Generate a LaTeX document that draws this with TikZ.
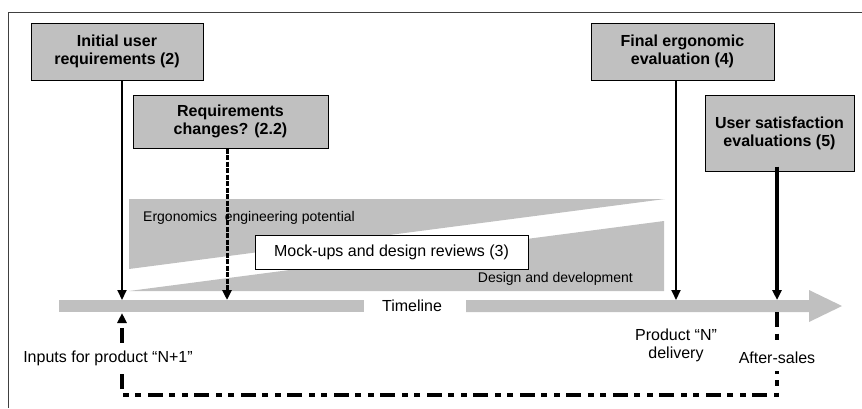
\documentclass[tikz,border=0pt]{standalone}
\usepackage{fontspec}
\setmainfont{Liberation Sans}
\usetikzlibrary{arrows.meta, positioning}
\definecolor{boxgray}{RGB}{192,192,192}
\tikzset{
    phase/.style={draw=black, fill=boxgray, line width=1pt, align=center, inner sep=0pt,
        font=\bfseries\fontsize{16}{18}\selectfont},
    lbl/.style={align=center, inner sep=1pt, font=\fontsize{16}{18}\selectfont},
    smalllbl/.style={inner sep=0pt, font=\fontsize{14}{16}\selectfont},
    tip/.style={-{Triangle[length=10pt,width=9pt]}},
    feedback/.style={line width=3.2pt, dash pattern=on 15pt off 6.5pt on 6pt off 6.5pt on 6pt off 6.5pt},
}

\begin{document}
\begin{tikzpicture}[x=1pt, y=-1pt]
    \useasboundingbox (0,0) rectangle (862,408);
    \draw[black!75, line width=1pt] (8,408) -- (8,12) -- (862,12);

    % potential and design wedges
    \fill[boxgray] (129,199) -- (665,199) -- (129,269) -- cycle;
    \fill[boxgray] (129,291) -- (664,221) -- (664,291) -- cycle;
    \node[smalllbl, anchor=west] (ergo) at (143,218) {Ergonomics\ \ engineering potential};
    \node[smalllbl, anchor=east] (design) at (633,279) {Design and development};
    \node[lbl, draw=black, fill=white, line width=1pt, minimum width=273, minimum height=34] (mockup) at (391.5,252) {Mock-ups and design reviews (3)};

    % timeline
    \fill[boxgray] (59,300) rectangle (364,312);
    \fill[boxgray] (466,300) -- (809,300) -- (809,290) -- (842,306) -- (809,322) -- (809,312) -- (466,312) -- cycle;
    \node[lbl] (timeline) at (412,306) {Timeline};

    % phases
    \node[phase, minimum width=172, minimum height=57] (initreq) at (117,51.5) {Initial user\\requirements (2)};
    \node[phase, minimum width=195, minimum height=53] (reqchg) at (230.5,121.5) {Requirements\\changes? (2.2)};
    \node[phase, minimum width=183, minimum height=57] (finaleval) at (682.5,51.5) {Final ergonomic\\evaluation (4)};
    \node[phase, minimum width=149, minimum height=76] (usersat) at (779.5,133) {User satisfaction\\evaluations (5)};

    \coordinate (t1) at (122,300);
    \coordinate (t2) at (227,300);
    \coordinate (t3) at (676,300);
    \coordinate (t4) at (777,300);

    \draw[tip, line width=2pt] (t1 |- initreq.south) -- (t1);
    \draw[tip, line width=3pt, dash pattern=on 5pt off 1.5pt] (t2 |- reqchg.south) -- (t2);
    \draw[tip, line width=2pt] (t3 |- finaleval.south) -- (t3);
    \draw[tip, line width=3.5pt, shorten <=-5pt] (t4 |- usersat.south) -- (t4);

    % feedback to the next product
    \coordinate (aftersales) at (777,312);
    \coordinate (inputs) at (122,313);
    \coordinate (corner) at (122,395);
    \draw[feedback, tip] (aftersales) |- (corner) -- (inputs);

    \node[lbl, fill=white, inner ysep=7pt] (nextlbl) at (108,358) {Inputs for product “N+1”};
    \node[lbl, fill=white, inner ysep=7pt] (afterlbl) at (777,358) {After-sales};
    \node[lbl] (deliverylbl) at (676,345) {Product “N”\\delivery};
\end{tikzpicture}
\end{document}
